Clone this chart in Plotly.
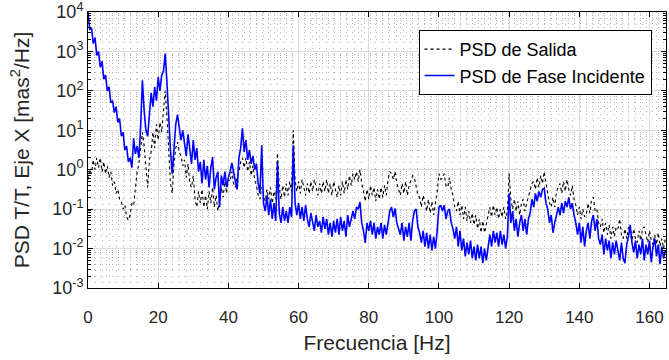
import numpy as np
import plotly.graph_objects as go

# frequency grid [Hz], 0.5 Hz step
freq = np.arange(0, 165.01, 0.5)

# PSD de Fase Incidente, log10 of the value (one row = 5 Hz)
incidente_log = [
    4.0, 3.55, 3.6, 3.2, 3.35, 2.9, 3.0, 2.6, 2.75, 2.3,
    2.4, 2.0, 2.1, 1.7, 1.75, 1.45, 1.6, 1.2, 1.3, 0.85,
    0.95, 0.5, 0.6, 0.2, 0.3, 0.05, 0.8, 0.4, 0.6, 0.3,
    1.1, 2.27, 1.5, 1.0, 0.85, 1.35, 1.95, 1.6, 2.1, 1.75,
    2.35, 2.0, 2.4, 2.5, 2.95, 2.2, 1.3, 0.5, -0.1, 0.6,
    1.15, 1.4, 1.05, 0.75, 1.0, 0.6, 0.35, 0.9, 0.5, 0.15,
    0.75, 0.25, 0.55, -0.05, 0.2, -0.35, 0.25, -0.25, 0.1, -0.45,
    0.05, 0.32, -0.5, -0.2, -0.05, -0.95, -0.15, -0.4, -0.05, -0.45,
    -0.2, -0.05, 0.17, -0.1, -0.3, -0.5, 0.3, 0.55, 1.05, 0.45,
    0.75, 0.25, 0.5, 0.15, 0.35, 0.0, 0.15, -0.35, -0.6, 0.62,
    -0.85, -1.05, -0.65, -1.15, -0.75, -1.25, -0.85, -1.3, 0.2, -1.1,
    -1.35, -0.95, -1.3, -1.05, -1.35, -0.95, -1.2, 0.62, -0.85, -1.15,
    -0.85, -1.25, -0.95, -1.3, -0.9, -1.25, -1.45, -1.1, -1.3, -1.55,
    -1.15, -1.45, -1.3, -1.6, -1.2, -1.5, -1.25, -1.65, -1.35, -1.7,
    -1.3, -1.6, -1.25, -1.65, -1.2, -1.55, -1.3, -1.7, -1.15, -1.45,
    -1.25, -1.05, -1.25, -0.95, -1.0, -0.82, -1.35, -1.55, -1.86, -1.35,
    -1.55, -1.3, -1.65, -1.35, -1.75, -1.45, -1.65, -1.35, -1.75, -1.4,
    -1.65, -1.3, -1.05, -0.95, -1.2, -0.98, -1.35, -1.5, -1.65, -1.35,
    -1.8, -1.45, -1.7, -1.35, -1.8, -1.3, -1.05, -1.0, -1.45, -1.6,
    -1.85, -1.55, -1.95, -1.6, -2.0, -1.65, -2.05, -1.7, -2.0, -1.55,
    -0.95, -0.9, -1.05, -0.9, -1.25, -1.05, -1.0, -1.35, -1.5, -1.75,
    -1.45, -1.95, -1.55, -2.05, -1.75, -2.2, -1.85, -2.15, -1.8, -2.25,
    -1.95, -2.3, -1.9, -2.25, -1.95, -2.37, -2.0, -2.3, -1.95, -1.65,
    -1.95, -1.55, -1.85, -1.6, -1.95, -1.55, -1.9, -1.65, -2.0, -1.7,
    -0.6, -1.35, -1.05, -1.55, -1.25, -1.7, -1.35, -1.15, -1.55, -1.25,
    -1.65, -1.25, -1.1, -0.75, -0.95, -0.6, -0.8, -0.55, -0.7, -0.5,
    -0.47, -0.85, -1.0, -1.35, -1.15, -1.6, -1.35, -1.15, -0.95, -1.15,
    -0.85, -1.1, -0.8, -0.95, -0.7, -1.0, -0.85, -1.15, -1.35, -1.65,
    -1.35, -1.85, -1.45, -1.95, -1.55, -1.35, -1.75, -1.3, -1.15, -1.55,
    -1.25, -1.75, -1.9, -1.65, -2.15, -1.75, -2.05, -1.8, -2.25, -1.85,
    -2.15, -1.8, -2.1, -2.3, -1.85, -2.25, -2.37, -1.9, -1.7, -1.4,
    -1.85, -2.1, -1.8, -2.25, -1.9, -2.15, -1.75, -2.3, -1.9, -2.15,
    -1.8, -2.35, -1.95, -1.75, -2.2, -1.9, -2.4, -1.95, -2.25, -2.05,
    -2.1,
]

# PSD de Salida, log10 of the value (one row = 5 Hz)
salida_log = [
    -0.25, 0.0, -0.1, 0.25, 0.0, 0.3, 0.05, 0.3, -0.05, 0.2,
    -0.1, 0.1, -0.2, -0.05, -0.4, -0.3, -0.6, -0.5, -0.75, -0.8,
    -1.0, -0.9, -1.2, -1.28, -1.15, -0.85, -0.9, -0.45, -0.05, 0.15,
    0.5, 0.95, 0.6, -0.05, -0.45, 0.25, 0.45, 0.95, 0.55, 1.15,
    0.75, 1.2, 0.95, 1.5, 2.0, 1.35, 0.45, -0.35, -0.6, 0.15,
    0.55, 0.7, 0.45, 0.35, 0.1, 0.25, -0.2, 0.15, -0.35, -0.45,
    -0.15, -0.75, -0.95, -0.55, -0.85, -0.5, -0.95, -0.65, -1.0, -0.55,
    -0.85, -0.45, -0.95, -0.65, -1.05, -0.7, -0.45, -0.7, -0.3, -0.6,
    -0.25, -0.3, -0.05, -0.35, -0.45, -0.15, -0.05, 0.2, 0.3, 0.05,
    0.3, -0.05, 0.2, -0.15, 0.1, -0.25, -0.4, -0.65, -0.75, -0.45,
    -0.65, -0.8, -0.5, -0.75, -0.45, -0.85, -0.55, -0.75, 0.42, -0.45,
    -0.75, -0.4, -0.7, -0.35, -0.65, -0.3, -0.55, 1.0, -0.25, -0.55,
    -0.3, -0.6, -0.25, -0.5, -0.65, -0.35, -0.6, -0.3, -0.55, -0.25,
    -0.5, -0.65, -0.35, -0.6, -0.3, -0.55, -0.25, -0.6, -0.35, -0.65,
    -0.3, -0.55, -0.7, -0.4, -0.65, -0.3, -0.6, -0.25, -0.5, -0.15,
    -0.4, -0.1, -0.25, -0.05, -0.3, 0.0, -0.35, -0.55, -0.8, -0.5,
    -0.75, -0.4, -0.65, -0.45, -0.8, -0.5, -0.75, -0.45, -0.7, -0.4,
    -0.65, -0.25, -0.05, -0.1, -0.25, -0.05, -0.35, -0.5, -0.65, -0.35,
    -0.6, -0.3, -0.65, -0.4, -0.25, -0.15, -0.2, -0.4, -0.65, -0.7,
    -0.95, -0.65, -0.9, -1.05, -0.75, -1.1, -0.8, -1.15, -0.85, -0.55,
    -0.1, -0.25, -0.2, -0.1, -0.4, -0.45, -0.2, -0.5, -0.65, -0.95,
    -1.05, -0.8, -1.15, -0.9, -1.25, -0.95, -1.3, -1.05, -1.35, -1.1,
    -1.4, -1.15, -1.5, -1.25, -1.6, -1.3, -1.6, -1.35, -1.15, -0.95,
    -1.2, -0.9, -1.15, -0.95, -1.25, -1.0, -1.2, -0.95, -1.25, -1.05,
    -0.1, -0.75, -1.0, -0.75, -1.05, -0.8, -1.15, -0.85, -0.75, -1.05,
    -0.85, -0.7, -0.55, -0.35, -0.3, -0.5, -0.2, -0.45, -0.15, -0.35,
    -0.05, -0.4, -0.6, -0.85, -0.95, -0.7, -0.95, -0.55, -0.45, -0.35,
    -0.6, -0.3, -0.55, -0.25, -0.5, -0.65, -0.4, -0.75, -0.9, -1.15,
    -0.95, -1.25, -1.0, -1.2, -1.15, -0.85, -1.1, -0.75, -0.7, -1.05,
    -1.0, -1.35, -1.45, -1.25, -1.6, -1.35, -1.65, -1.4, -1.75, -1.45,
    -1.7, -1.45, -1.5, -1.25, -1.65, -1.75, -1.5, -1.75, -1.45, -1.65,
    -1.8, -1.5, -1.75, -1.85, -1.55, -1.8, -1.5, -1.45, -1.7, -1.85,
    -1.55, -1.8, -1.9, -1.65, -1.9, -1.6, -1.95, -1.75, -2.0, -1.75,
    -1.85,
]

psd_incidente = 10 ** np.array(incidente_log)
psd_salida = 10 ** np.array(salida_log)

exps = [-3, -2, -1, 0, 1, 2, 3, 4]
ytick_vals = [10.0 ** e for e in exps]
ytick_text = ["10<sup>%d</sup>" % e for e in exps]

font = "Liberation Sans, Arial, sans-serif"
minor_grid = dict(showgrid=True, gridcolor="#b4b4b4", griddash="1px,5px", gridwidth=1)

fig = go.Figure()
fig.add_trace(go.Scatter(x=freq, y=psd_salida, mode="lines", name="PSD de Salida",
                         line=dict(color="black", width=1.1, dash="dot")))
fig.add_trace(go.Scatter(x=freq, y=psd_incidente, mode="lines", name="PSD de Fase Incidente",
                         line=dict(color="#0000ff", width=1.6)))

fig.update_layout(
    width=669, height=360,
    margin=dict(l=88, r=3, t=12, b=72),
    plot_bgcolor="white", paper_bgcolor="white",
    font=dict(family=font, size=18, color="#262626"),
    showlegend=True,
    legend=dict(x=0.975, y=0.935, xanchor="right", yanchor="top",
                bgcolor="white", bordercolor="black", borderwidth=1,
                font=dict(size=18, color="black"), tracegroupgap=0),
)
fig.update_xaxes(
    range=[0, 164.7], dtick=20, tick0=0, automargin=False,
    showgrid=True, gridcolor="#dcdcdc", gridwidth=1,
    ticks="inside", ticklen=5, tickcolor="black",
    showline=True, linecolor="black", linewidth=1, mirror="ticks",
    zeroline=False, ticklabelstandoff=14, ticklabeloverflow="allow",
    minor=dict(dtick=2, **minor_grid),
    title=dict(text="Frecuencia [Hz]", font=dict(size=21), standoff=8),
    tickfont=dict(size=17),
)
fig.update_yaxes(
    type="log", range=[-3.002, 4.002], automargin=False,
    tickvals=ytick_vals, ticktext=ytick_text, ticklabeloverflow="allow",
    showgrid=True, gridcolor="#dcdcdc", gridwidth=1,
    ticks="inside", ticklen=5, tickcolor="black",
    showline=True, linecolor="black", linewidth=1, mirror="ticks",
    zeroline=False,
    minor=dict(dtick="D1", ticks="inside", ticklen=3, tickcolor="black", **minor_grid),
    title=dict(text="PSD T/T, Eje X [mas<sup>2</sup>/Hz]", font=dict(size=21), standoff=16),
    tickfont=dict(size=18),
)

# the page's default body margin would shift the figure by 8px
fig.write_html("out.html", config={"displayModeBar": False},
               post_script="document.body.style.margin='0';")
